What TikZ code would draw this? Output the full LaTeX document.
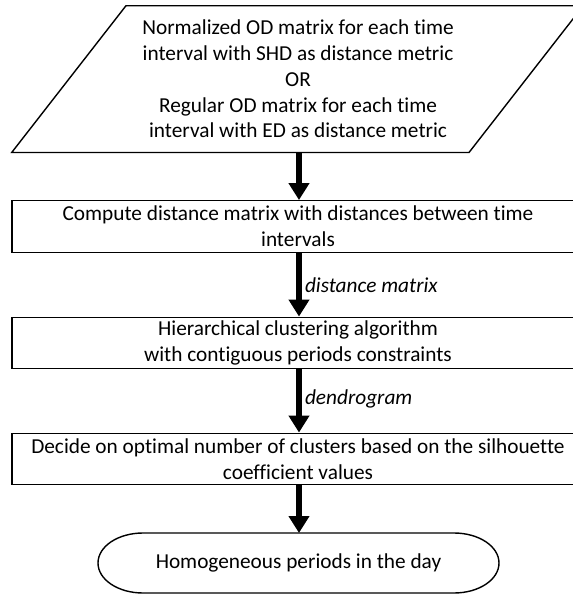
\documentclass[tikz,border=0pt]{standalone}
\usepackage{fontspec}
\setmainfont[RawFeature=-liga]{Carlito}
\usetikzlibrary{arrows.meta}
\begin{document}
\begin{tikzpicture}[x=1pt,y=-1pt,
  every node/.style={font=\fontsize{21.3pt}{25.7pt}\selectfont, align=center, inner sep=0pt},
  box/.style={draw, line width=1.4pt, minimum width=572pt, minimum height=51.5pt},
  outline/.style={draw, line width=1.4pt, line join=miter},
  flow/.style={line width=6pt, -{Triangle[width=20pt,length=17pt]}},
  lab/.style={font=\fontsize{21.3pt}{25.7pt}\selectfont\itshape, anchor=west}]
\useasboundingbox (0,0) rectangle (573,595);
\fill[white] (0,0) rectangle (573,595);
% input parallelogram
\draw[outline] (11.7,152.5) -- (469,152.5) -- (583.3,5.7) -- (126,5.7) -- cycle;
\node (in) at (298,79) {Normalized OD matrix for each time\\interval with SHD as distance metric\\OR\\Regular OD matrix for each time\\interval with ED as distance metric};
\coordinate (inb) at (299,152.5);
% process boxes
\node[box] (b1) at (298,226.5) {Compute distance matrix with distances between time\\intervals};
\node[box] (b2) at (298,343) {Hierarchical clustering algorithm\\with contiguous periods constraints};
\node[box] (b3) at (298,459) {Decide on optimal number of clusters based on the silhouette\\coefficient values};
% terminal
\node (t) at (298.5,563) {Homogeneous periods in the day};
\draw[outline] (143,533) -- (454,533) .. controls (479,533) and (499,546.4) .. (499,563)
  .. controls (499,579.6) and (479,593) .. (454,593) -- (143,593)
  .. controls (118,593) and (98,579.6) .. (98,563)
  .. controls (98,546.4) and (118,533) .. (143,533) -- cycle;
\coordinate (tt) at (299,533);
% connectors
\draw[flow] (inb) -- (b1.north -| inb);
\draw[flow] (b1.south -| inb) -- node[lab, xshift=3pt] {distance matrix} (b2.north -| inb);
\draw[flow] (b2.south -| inb) -- node[lab, xshift=3pt, yshift=2pt] {dendrogram} (b3.north -| inb);
\draw[flow] (b3.south -| inb) -- (tt);
\end{tikzpicture}
\end{document}
